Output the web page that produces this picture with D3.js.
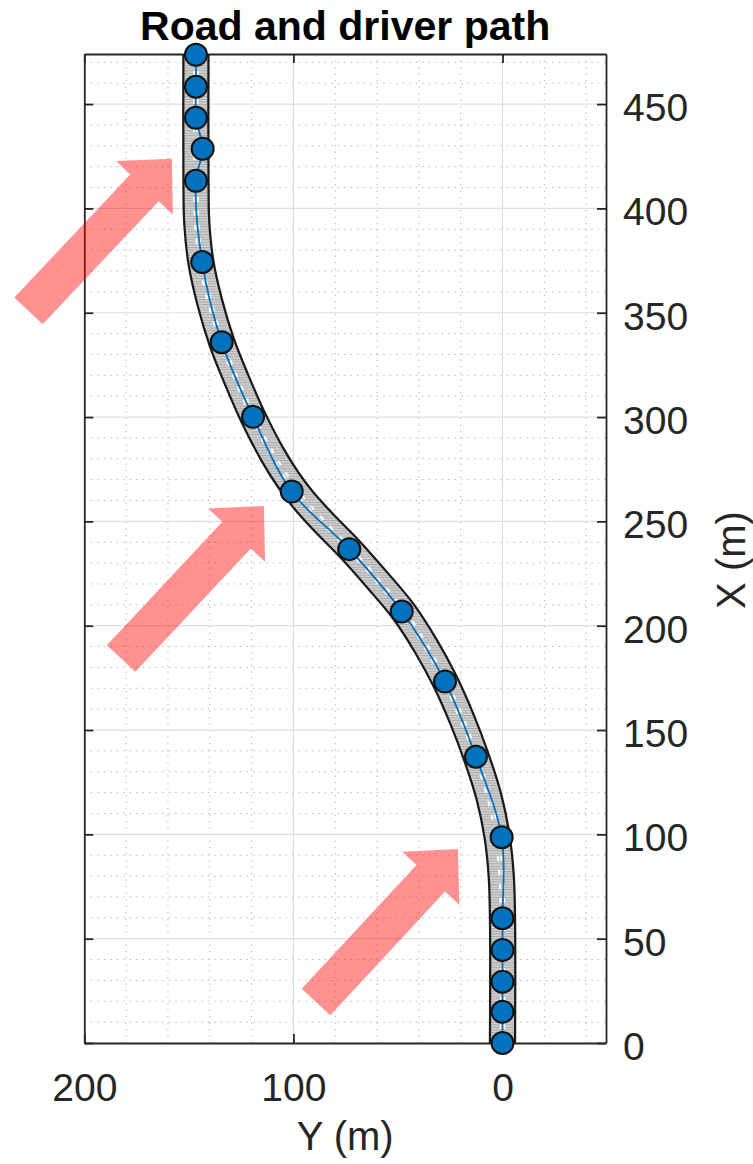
<!DOCTYPE html>
<html>
<head>
<meta charset="utf-8">
<script src="https://cdn.jsdelivr.net/npm/d3@7"></script>
<style>
  body { margin: 0; background: #fff; }
  text { font-family: "Liberation Sans", Arial, Helvetica, sans-serif; fill: #262626; }
</style>
</head>
<body>
<div id="chart"></div>
<script>
// Road centre line, X along the road, Y lateral (m)
const roadX = [0, 60, 80, 99, 118, 137, 155, 173, 190, 207, 222, 237, 250, 260, 270, 282, 300, 318, 336, 355, 374, 393, 413, 480];
const roadY = [0, 0, 0.6, 2.6, 6.5, 12.5, 19.3, 27.3, 36.5, 47.5, 60, 73.3, 86, 95, 102.5, 110, 119.3, 127.2, 134.3, 140, 144.2, 146.2, 146.6, 146.6];
const roadWidth = 11.4;

// Driver samples
const driverX = [0, 15, 29.4, 44.6, 59.8, 98.6, 137.2, 173.2, 206.8, 236.7, 264.3, 300.1, 335.9, 374.3, 413.2, 428.6, 443.4, 458.3, 473.6];
const driverY = [0, 0, 0, 0, 0, 0.4, 12.7, 27.5, 48.2, 73.3, 100.8, 119.3, 134.3, 143.6, 146.6, 143.4, 146.6, 146.6, 146.6];

const xTicks = [0, 50, 100, 150, 200, 250, 300, 350, 400, 450];
const yTicks = [200, 100, 0];

// Red annotation arrows, tail -> tip (data units)
const arrowTailY = [226.7, 182.4, 89.2];
const arrowTailX = [350.9, 184.3, 19.7];
const arrowTipY = [158.1, 114.1, 21.3];
const arrowTipX = [423.8, 257.4, 93.0];

const width = 753, height = 1164;
const plot = { left: 84.3, right: 606, top: 54, bottom: 1043 };

const svg = d3.select('#chart').append('svg')
    .attr('width', width)
    .attr('height', height);

// Y runs right-to-left horizontally, X runs upward
const yScale = d3.scaleLinear().domain([200, -49.5]).range([plot.left, plot.right]);
const xScale = d3.scaleLinear().domain([0, 474]).range([plot.bottom, plot.top]);

const defs = svg.append('defs');
defs.append('clipPath').attr('id', 'plotClip')
    .append('rect')
    .attr('x', plot.left).attr('y', plot.top)
    .attr('width', plot.right - plot.left)
    .attr('height', plot.bottom - plot.top);

// striped asphalt
const hatch = defs.append('pattern')
    .attr('id', 'roadHatch')
    .attr('patternUnits', 'userSpaceOnUse')
    .attr('width', 6).attr('height', 2.6);
hatch.append('rect').attr('width', 6).attr('height', 2.6).attr('fill', '#cfcfcf');
hatch.append('rect').attr('width', 6).attr('height', 1).attr('fill', '#acacac');

// Grid
const grid = svg.append('g');
const minorY = d3.range(-40, 200, 20).filter(v => v % 100 !== 0);
const minorX = d3.range(10, 474, 10).filter(v => v % 50 !== 0);

grid.selectAll('.minor-v').data(minorY).enter().append('line')
    .attr('x1', d => yScale(d)).attr('x2', d => yScale(d))
    .attr('y1', plot.top).attr('y2', plot.bottom)
    .attr('stroke', '#b0b0b0').attr('stroke-width', 1)
    .attr('stroke-dasharray', '1.3,5.2');

grid.selectAll('.minor-h').data(minorX).enter().append('line')
    .attr('x1', plot.left).attr('x2', plot.right)
    .attr('y1', d => xScale(d)).attr('y2', d => xScale(d))
    .attr('stroke', '#b0b0b0').attr('stroke-width', 1)
    .attr('stroke-dasharray', '1.3,5.2');

grid.selectAll('.major-v').data([100, 0]).enter().append('line')
    .attr('x1', d => yScale(d)).attr('x2', d => yScale(d))
    .attr('y1', plot.top).attr('y2', plot.bottom)
    .attr('stroke', '#dedede').attr('stroke-width', 1.2);

grid.selectAll('.major-h').data(xTicks.filter(d => d > 0)).enter().append('line')
    .attr('x1', plot.left).attr('x2', plot.right)
    .attr('y1', d => xScale(d)).attr('y2', d => xScale(d))
    .attr('stroke', '#dedede').attr('stroke-width', 1.2);

// Road
const roadPts = roadX.map((x, i) => [yScale(roadY[i]), xScale(x)]);
const roadLine = d3.line().curve(d3.curveCatmullRom.alpha(0.5));
const roadPx = roadWidth * (yScale(0) - yScale(1));

const road = svg.append('g').attr('clip-path', 'url(#plotClip)');
road.append('path').attr('d', roadLine(roadPts))
    .attr('fill', 'none').attr('stroke', '#1a1a1a')
    .attr('stroke-width', roadPx + 3.5);
road.append('path').attr('d', roadLine(roadPts))
    .attr('fill', 'none').attr('stroke', 'url(#roadHatch)')
    .attr('stroke-width', roadPx - 1);
road.append('path').attr('d', roadLine(roadPts))
    .attr('fill', 'none').attr('stroke', '#ffffff')
    .attr('stroke-width', 5.5).attr('stroke-dasharray', '5,9');
road.append('path').attr('d', roadLine(roadPts))
    .attr('fill', 'none').attr('stroke', '#c4c4c4')
    .attr('stroke-width', 1.4);

// Driver path
const driverPts = driverX.map((x, i) => [yScale(driverY[i]), xScale(x)]);
svg.append('path')
    .attr('d', d3.line().curve(d3.curveCatmullRom.alpha(0.5))(driverPts))
    .attr('fill', 'none')
    .attr('stroke', '#0072BD')
    .attr('stroke-width', 1.8);

// Axes box
const axes = svg.append('g');
const bottomAxis = d3.axisBottom(yScale).tickValues(yTicks).tickSizeInner(-9).tickSizeOuter(0).tickPadding(30);
const topAxis = d3.axisTop(yScale).tickValues(yTicks).tickSizeInner(-9).tickSizeOuter(0).tickFormat('');
const rightAxis = d3.axisRight(xScale).tickValues(xTicks).tickSizeInner(-9).tickSizeOuter(0).tickPadding(17);
const leftAxis = d3.axisLeft(xScale).tickValues(xTicks).tickSizeInner(-9).tickSizeOuter(0).tickFormat('');

const gb = axes.append('g').attr('transform', `translate(0,${plot.bottom})`).call(bottomAxis);
const gt = axes.append('g').attr('transform', `translate(0,${plot.top})`).call(topAxis);
const gr = axes.append('g').attr('transform', `translate(${plot.right},0)`).call(rightAxis);
const gl = axes.append('g').attr('transform', `translate(${plot.left},0)`).call(leftAxis);

[gb, gt, gr, gl].forEach(g => {
    g.select('.domain').attr('stroke', '#262626').attr('stroke-width', 1.8);
    g.selectAll('.tick line').attr('stroke', '#262626').attr('stroke-width', 1.8);
    g.selectAll('.tick text')
        .attr('fill', '#262626')
        .style('font-size', '39px')
        .style('font-family', '"Liberation Sans", Arial, sans-serif');
});
gr.selectAll('.tick text').attr('dy', '0.42em');

// Driver samples
svg.append('g').selectAll('circle')
    .data(driverPts)
    .enter().append('circle')
    .attr('cx', d => d[0])
    .attr('cy', d => d[1])
    .attr('r', 11)
    .attr('fill', '#0072BD')
    .attr('stroke', '#111')
    .attr('stroke-width', 2);

// Arrows
const shaftW = 39, headW = 78, headL = 40;
const arrows = arrowTipX.map((x, i) => {
    const tail = [yScale(arrowTailY[i]), xScale(arrowTailX[i])];
    const tip = [yScale(arrowTipY[i]), xScale(x)];
    const dx = tip[0] - tail[0], dy = tip[1] - tail[1];
    const len = Math.hypot(dx, dy);
    const ux = dx / len, uy = dy / len;
    const px = -uy, py = ux;
    const base = [tip[0] - ux * headL, tip[1] - uy * headL];
    const p = (o, w) => [o[0] + px * w, o[1] + py * w];
    return [
        p(tail, shaftW / 2), p(base, shaftW / 2), p(base, headW / 2),
        tip,
        p(base, -headW / 2), p(base, -shaftW / 2), p(tail, -shaftW / 2)
    ];
});

svg.append('g').selectAll('polygon')
    .data(arrows)
    .enter().append('polygon')
    .attr('points', d => d.map(q => q.join(',')).join(' '))
    .attr('fill', '#ff0000')
    .attr('fill-opacity', 0.43);

// Labels
svg.append('text')
    .attr('x', (plot.left + plot.right) / 2)
    .attr('y', 40)
    .attr('text-anchor', 'middle')
    .style('font-size', '41px')
    .style('font-weight', 'bold')
    .style('fill', '#000')
    .text('Road and driver path');

svg.append('text')
    .attr('x', (plot.left + plot.right) / 2)
    .attr('y', 1150)
    .attr('text-anchor', 'middle')
    .style('font-size', '40px')
    .text('Y (m)');

svg.append('text')
    .attr('transform', `translate(745,560) rotate(-90)`)
    .attr('text-anchor', 'middle')
    .style('font-size', '40px')
    .text('X (m)');
</script>
</body>
</html>
